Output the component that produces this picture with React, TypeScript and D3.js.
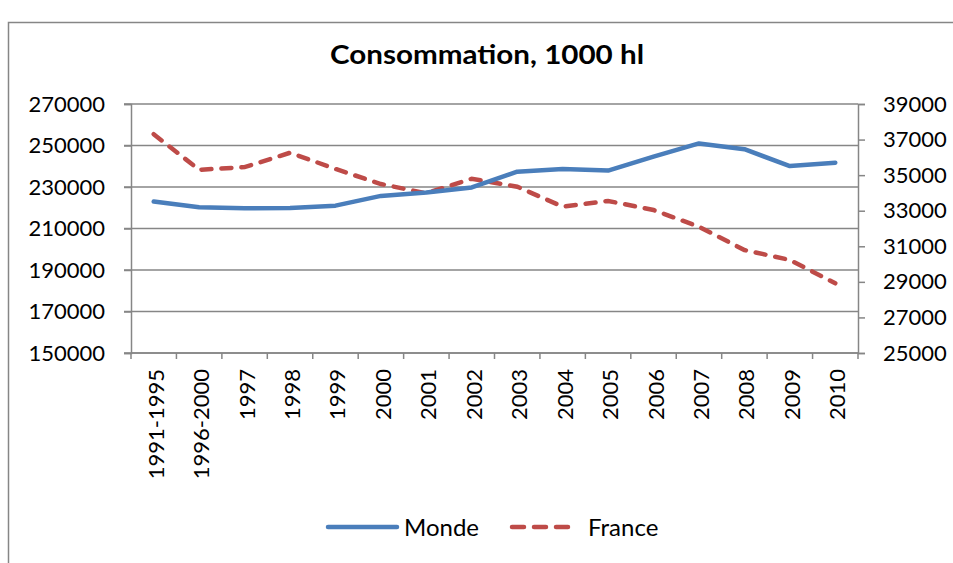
import React, { useEffect, useRef } from "react";
import * as d3 from "d3";

// Categories (x axis)
const categories = [
  "1991-1995", "1996-2000", "1997", "1998", "1999", "2000", "2001", "2002",
  "2003", "2004", "2005", "2006", "2007", "2008", "2009", "2010",
];

// World consumption, left axis
const monde = [
  223000, 220200, 219700, 219900, 221000, 225700, 227300, 229800,
  237400, 238700, 237900, 244600, 251000, 248200, 240100, 241700,
];

// France consumption, right axis
const france = [
  37300, 35300, 35450, 36260, 35350, 34500, 33980, 34800,
  34350, 33230, 33550, 33040, 32100, 30790, 30230, 28920,
];

const leftTicks = [150000, 170000, 190000, 210000, 230000, 250000, 270000];
const rightTicks = [25000, 27000, 29000, 31000, 33000, 35000, 37000, 39000];

const App = () => {
  const ref = useRef<SVGSVGElement>(null);

  useEffect(() => {
    const width = 953;
    const height = 563;
    const font = "Lato, 'Open Sans', sans-serif";
    const svg = d3.select(ref.current)
      .attr("width", width)
      .attr("height", height);
    svg.selectAll("*").remove();

    const left = 131, right = 858, top = 104, bottom = 353;

    // chart border
    svg.append("rect")
      .attr("x", 8.5).attr("y", 22.5)
      .attr("width", 960).attr("height", 600)
      .attr("fill", "white")
      .attr("stroke", "#868686")
      .attr("stroke-width", 1.5);

    const x = d3.scaleBand<string>().domain(categories).range([left, right]);
    const yL = d3.scaleLinear().domain([150000, 270000]).range([bottom, top]);
    const yR = d3.scaleLinear().domain([25000, 39000]).range([bottom, top]);

    // title
    svg.append("text")
      .attr("x", 487).attr("y", 64)
      .attr("text-anchor", "middle")
      .attr("font-family", font)
      .attr("font-weight", "bold")
      .attr("font-size", 26)
      .attr("textLength", 314)
      .attr("lengthAdjust", "spacingAndGlyphs")
      .text("Consommation, 1000 hl");

    // gridlines
    svg.append("g")
      .selectAll("line")
      .data(leftTicks)
      .join("line")
      .attr("x1", left - 7).attr("x2", right)
      .attr("y1", d => yL(d)).attr("y2", d => yL(d))
      .attr("stroke", "#868686")
      .attr("stroke-width", 1.5);

    // left axis
    const gL = svg.append("g")
      .attr("transform", `translate(${left},0)`)
      .call(d3.axisLeft(yL).tickValues(leftTicks).tickSize(7).tickPadding(19).tickFormat(d3.format("d")));
    gL.select(".domain").attr("stroke", "#868686").attr("stroke-width", 1.5);
    gL.selectAll(".tick line").attr("stroke", "#868686").attr("stroke-width", 1.5);
    gL.selectAll("text").attr("font-family", font).attr("font-size", 22).attr("fill", "#000");

    // right axis
    const gR = svg.append("g")
      .attr("transform", `translate(${right},0)`)
      .call(d3.axisRight(yR).tickValues(rightTicks).tickSize(7).tickPadding(18).tickFormat(d3.format("d")));
    gR.select(".domain").attr("stroke", "#868686").attr("stroke-width", 1.5);
    gR.selectAll(".tick line").attr("stroke", "#868686").attr("stroke-width", 1.5);
    gR.selectAll("text").attr("font-family", font).attr("font-size", 22).attr("fill", "#000");

    // bottom axis: tick marks at category boundaries
    const bounds = categories.map(c => x(c) as number).concat([right]);
    svg.append("line")
      .attr("x1", left).attr("x2", right)
      .attr("y1", bottom).attr("y2", bottom)
      .attr("stroke", "#868686").attr("stroke-width", 1.5);
    svg.append("g")
      .selectAll("line")
      .data(bounds)
      .join("line")
      .attr("x1", d => d).attr("x2", d => d)
      .attr("y1", bottom).attr("y2", bottom + 6)
      .attr("stroke", "#868686").attr("stroke-width", 1.5);

    svg.append("g")
      .selectAll("text")
      .data(categories)
      .join("text")
      .attr("transform", d => `translate(${(x(d) as number) + x.bandwidth() / 2 + 10},${bottom + 16}) rotate(-90)`)
      .attr("text-anchor", "end")
      .attr("font-family", font)
      .attr("font-size", 22)
      .text(d => d);

    const cx = (i: number) => (x(categories[i]) as number) + x.bandwidth() / 2;

    // France (dashed, right axis)
    svg.append("path")
      .datum(france)
      .attr("fill", "none")
      .attr("stroke", "#BE4B48")
      .attr("stroke-width", 4.5)
      .attr("stroke-linecap", "round")
      .attr("stroke-dasharray", "10,10")
      .attr("d", d3.line<number>().x((_, i) => cx(i)).y(d => yR(d)));

    // Monde (solid, left axis)
    svg.append("path")
      .datum(monde)
      .attr("fill", "none")
      .attr("stroke", "#4A7EBB")
      .attr("stroke-width", 4.5)
      .attr("stroke-linecap", "round")
      .attr("stroke-linejoin", "round")
      .attr("d", d3.line<number>().x((_, i) => cx(i)).y(d => yL(d)));

    // legend
    const lg = svg.append("g");
    lg.append("line")
      .attr("x1", 328).attr("x2", 397).attr("y1", 527).attr("y2", 527)
      .attr("stroke", "#4A7EBB").attr("stroke-width", 4.5).attr("stroke-linecap", "round");
    lg.append("text")
      .attr("x", 404).attr("y", 536)
      .attr("font-family", font).attr("font-size", 24)
      .text("Monde");
    lg.append("line")
      .attr("x1", 512).attr("x2", 572).attr("y1", 527).attr("y2", 527)
      .attr("stroke", "#BE4B48").attr("stroke-width", 4.5).attr("stroke-linecap", "round")
      .attr("stroke-dasharray", "12,10");
    lg.append("text")
      .attr("x", 588).attr("y", 536)
      .attr("font-family", font).attr("font-size", 24)
      .text("France");
  }, []);

  return (
    <div style={{ position: "absolute", left: 0, top: 0 }}>
      <svg ref={ref}></svg>
    </div>
  );
};

export default App;
